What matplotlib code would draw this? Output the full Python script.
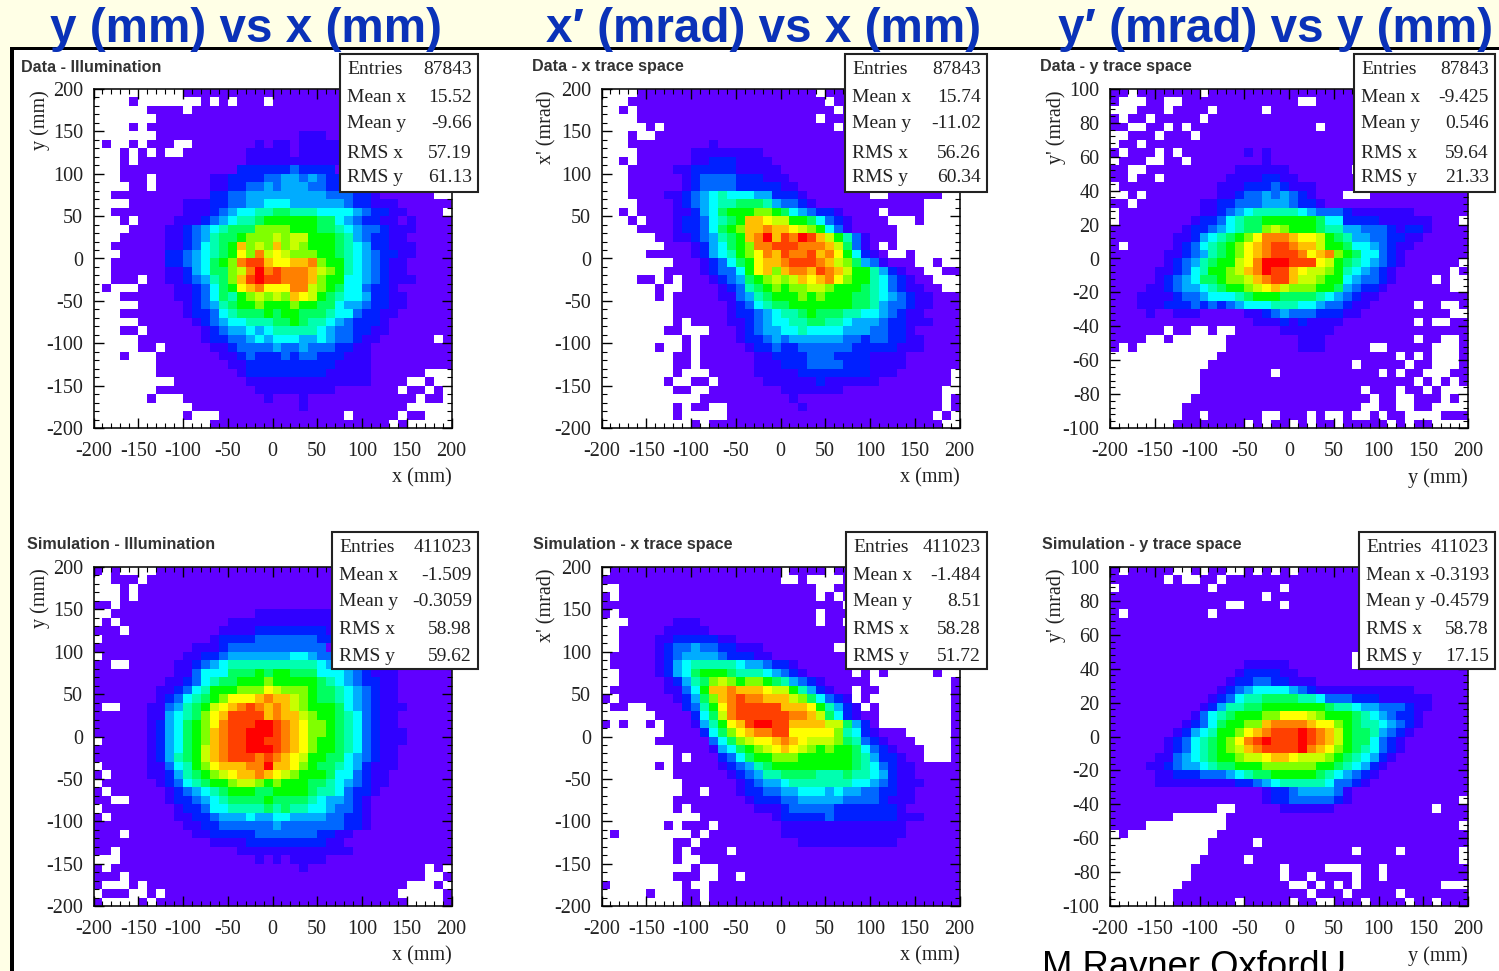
import numpy as np
import matplotlib
matplotlib.use('Agg')
import matplotlib.pyplot as plt
from matplotlib.colors import ListedColormap
from matplotlib.patches import Rectangle
from matplotlib.ticker import MultipleLocator

W, H = 1499, 971
NBINS = 40

# histogram cells, top row first: '.' = empty bin, 0-f = colour level
# rows stop early when the rest of the row is level 0
data_illum = [
    "..........0", "....0.......0.0.000.0", "......0000.0", ".......0", "....0.00",
    ".......0000000000000000111",
    ".0..0.000..00000001011011111",
    "...0.0.0..000000011111011111",
    "...0.000000000000111111111111111",
    "..." + "0"*13 + "22222232222",
    "...000.000000112222334434322",
    "....00.00000011223343444" + "3322",
    "..00000000000" + "2233444444444" + "333221" + "000000..",
    "....000000111223344555444444" + "322111",
    "..0000000011123455667766655554322110000.",
    "...0.0000111234566" + "7888888" + "77543" + "2211" + "010000",
    "....00001123456777999988877654332111",
    "...00000112346778999a9aa88876432211",
    "..00000011235678c9a9c9a9888765422111",
    "...0000022345678b9daba99988765432211",
    "..00000022345789deecbbccd9886543211",
    "..00000011245779adfdedddca986543211",
    "..000.0011234679cefeedddc98855432111",
    ".0...00001123578bcdbbbdda987553221",
    "...000000112357689a9a9cba8765542211",
    ".....000001234678898889887754432211",
    "...0000000122356777878877765532211",
    ".....0000001234556667787665432221",
    "...00.000000123445456666654332211",
    ".....000000012233454555445433211" + "000000.",
    ".....00.00000112333343343332211",
    "...0...000000011232223233222111",
    "......." + "0"*8 + "11" + "2"*10 + "1111",
    "......." + "0"*9 + "1" + "2"*9 + "11111" + "0"*6 + "...",
    "........." + "0"*8 + "1"*14 + "0000" + "..0..",
    "......." + "0"*11 + "1"*9 + "0"*7 + ".00.0.",
    "......0..." + "0"*9 + "10001" + "0"*12 + ".00.",
    "..........." + "0"*12 + "1" + "0"*11 + ".....",
    "..........0..." + "0"*14 + "." + "0"*5 + ".00...",
    "............." + "0"*20 + ".0.....",
]

data_xtrace = [
    "...." + "0"*20 + ".", "..." + "0"*22 + ".", "..0." + "0"*22 + ".", "...." + "0"*20 + ".",
    ".....0." + "0"*19 + ".", "...0..0",
    "..." + "0"*9 + "1",
    "...." + "0"*6 + "1"*8,
    "..0." + "000000" + "11222" + "1111",
    "..." + "00000" + "11" + "22222" + "11111",
    "..." + "000000" + "12" + "3333" + "222" + "111",
    "..." + "000000" + "12" + "3333" + "222" + "22" + "11",
    "...0000" + "112345" + "6" + "555" + "44" + "222" + "1" + "0"*7 + ".." + "0"*6 + "..",
    "....0000" + "123456" + "6" + "777" + "6" + "4" + "33" + "2" + "1" + "0"*12 + "....",
    "..0." + "0000" + "11" + "2457" + "888" + "99" + "8754" + "3" + "22" + "1" + "0000" + "." + "000" + "0" + "....",
    "...0." + "000" + "1" + "22" + "3567" + "8" + "cc" + "baa" + "88" + "75321" + "0000" + "...0....",
    "...." + "0000" + "1" + "22" + "35789" + "ccdccba98531" + "00000" + ".......",
    "......" + "00" + "11" + "234678" + "cdfcedfeca86" + "31" + "000" + ".......",
    "......." + "000" + "1245789" + "dd" + "eee" + "ddd" + "ca731" + "0.0" + ".......",
    "....." + "00000" + "124568" + "9bdceddecdb8521" + "0..0.....",
    "........" + "000" + "123578" + "bccdeeedca97431" + "000..0..",
    "......." + "0000" + "123358bc9cddcedca886421" + "00..00",
    "....00.0.000" + "1234789a9acbcdb98865321" + "00...",
    "......0.." + "0000" + "1236789899aa98887653211" + "00..",
    "......0." + "00000" + "11346788898988877654 3211".replace(" ", ""),
    "........" + "000000" + "12356778888888776433211",
    "........" + "000000" + "1223456678777665543211",
    "........0.0000" + "11234556677665444322111",
    "......." + "00...000" + "12344556555544433221",
    ".........0.0000" + "12234344444433233221 1".replace(" ", ""),
    "......0..0.00000" + "12232233333322222111",
    "........00.000000" + "11222233322221111",
    "........00.000000" + "11122233332221111",
    "........0...00000" + "11111" + "2"*8 + "111" + "0"*6 + ".",
    ".......0..00.00000" + "111111" + "2" + "111111" + "0"*8 + ".",
    "........00.." + "0"*8 + "1"*7 + "0"*11 + "..",
    "..........." + "0"*10 + "1" + "0"*16 + ".0",
    "........0.00..00000000" + "1" + "0"*15 + ".0",
    "........0....." + "0"*23 + ".0.",
    "..........0." + "0"*26 + "..",
]

data_ytrace = [
    "00.0000000.0", "0...00..0000000000000..", "...000.0000.00000.0", "0.00.00000.0",
    "00..00.0.0" + "0"*13 + ".", "..000.000.0", ".00.0",
    "0.000.0.0000000101", ".000..00.000000001",
    "00..0000000000" + "111111" + "0"*7 + ".",
    "00.00." + "0"*7 + "1111" + "22" + "11",
    "." + "0"*11 + "111" + "222" + "3" + "2" + "111",
    "..0.00000000" + "11" + "2" + "33" + "4" + "3" + "4" + "3" + "2" + "1" + "000" + "...",
    "00.0000000" + "1122" + "333" + "444" + "3" + "22" + "1",
    ".000000000" + "11234566" + "666" + "54333" + "2" + "1111111",
    ".00000000" + "122356" + "77" + "888888" + "7" + "55" + "2222" + "111111" + "000.",
    "00000000" + "122345677" + "9a9" + "888" + "7" + "66" + "44" + "33" + "3" + "2" + "1" + "22" + "1",
    "0000000" + "11" + "2456789b" + "ddd" + "cbba" + "876" + "44" + "33" + "22" + "11",
    "0.00000" + "123567 89bcd".replace(" ", "") + "ee" + "dcc" + "a887" + "55" + "4321" + "1",
    "000000" + "11" + "2346789bcd" + "eee" + "dbcd" + "987" + "55" + "321",
    "000000" + "123467" + "88" + "abd" + "fff" + "eee" + "ba87654321" + "000000.",
    "00000" + "11" + "2356" + "88" + "9acdf" + "ee" + "cb" + "aa" + "98654321" + "000000.0",
    "00000" + "12345" + "77" + "8" + "99" + "acd" + "ee" + "c" + "aa" + "9" + "88" + "54" + "33" + "21" + "0000.0..",
    "0000" + "11" + "23" + "44" + "567" + "88" + "9abca" + "999" + "88" + "743" + "22" + "1" + "0"*7 + "..",
    "000" + "1111" + "2" + "33" + "4" + "555" + "67" + "888" + "7777" + "65432" + "11",
    "000" + "111" + "222" + "32323" + "45" + "55" + "6" + "66" + "55" + "4" + "33" + "2" + "11" + "00000.00..0",
    "0000" + "1" + "00" + "111" + "00000" + "11" + "234" + "333" + "222" + "11" + "0"*10 + "..",
    "0"*16 + "111" + "212" + "1111" + "0"*8 + ".0..00",
    "000000.00..0..00000" + "111111",
    "0000..0......" + "0"*8 + "111" + "0"*10 + ".00..0",
    "0.0.........." + "0"*8 + "111" + "00000" + ".." + "00000" + "...0",
    "............" + "0"*20 + ".0.0...0",
    "..........." + "0"*16 + "." + "00000" + ".00...0",
    ".........." + "0"*8 + "." + "0"*11 + ".0.00...00",
    ".........." + "0"*24 + ".0.0.0",
    ".........." + "0"*18 + ".000.00.0...",
    "........." + "0"*20 + ".00..000.0.",
    "........" + "0"*20 + "..00..00....",
    "........00." + "0"*6 + "..000.0..0..0.00....",
    "......." + "0"*8 + ".0.00.0.00." + "00000" + ".0.00....",
]

sim_illum = [
    "0.0....0", "..000.0", "...0.0", "...0.0", "00.0",
    ".." + "0"*16 + "1"*10,
    ".0." + "0"*12 + "111" + "1"*10,
    "000." + "0"*10 + "1111" + "2"*8 + "11",
    "." + "0"*12 + "1" + "2222" + "3"*7 + "222",
    "0"*11 + "111" + "2" + "333" + "3"*8,
    "." + "0"*9 + "11" + "22" + "3" + "444444" + "4" + "55" + "4" + "333",
    "00.." + "00000" + "11" + "2345" + "6"*10 + "544",
    "0"*9 + "11" + "3" + "555" + "777" + "87" + "88" + "777" + "555" + "432" + "111",
    "0"*8 + "11" + "2356" + "77" + "888" + "9" + "88888" + "76543" + "22" + "11",
    "0"*7 + "11235688899" + "9ba999" + "8776543" + "211",
    "0"*7 + "12356789bbbcdcca98776543" + "211",
    "0..000" + "1134678abcdedcdca98887543 2111".replace(" ", ""),
    "000000" + "1145679bceeeecdcca9887653211",
    "000000" + "1245789bdeeeffedcb9987653211",
    "000000" + "124578 9cdeefffedcb99876532111".replace(" ", ""),
    ".00000" + "12457 89cdeeffeedcb98876532111".replace(" ", ""),
    "000000" + "124578acdeefffedcb9887653211",
    "000000" + "124678acdeeededcba8877543211",
    ".00000" + "113568 9bcccddfccb98776542111".replace(" ", ""),
    "0.0000" + "11246789abccdcba98887553211",
    ".000000" + "1235678 89aa98988877654321 1".replace(" ", ""),
    "0.000000" + "123456788877888876653221",
    "00..0000" + "12234567777877776544321",
    ".00000000" + "1223556666767665543321",
    "0.0000000" + "1122344454455444433221",
    "0"*10 + "112233333343333333221",
    "000." + "0"*7 + "112222" + "2" + "3"*7 + "2211",
    "0"*13 + "1111" + "2"*9 + "11",
    "00." + "0"*13 + "1"*13,
    "..." + "0"*15 + "10" + "1" + "0" + "1111",
    "0." + "0"*21 + "1" + "0"*13 + ".0.",
    "000." + "0"*33 + "..0",
    "0...0." + "0"*29 + "...0.",
    ".000..0." + "0"*26 + ".....0",
    "0....0." + "0"*28 + "....0",
]

sim_xtrace = [
    "." + "0"*19 + ".0000.", "0"*20 + "..0....", ".." + "0"*22 + "..", "0." + "0"*22 + ".0.",
    "0"*27 + ".", "0." + "0"*22 + ".",
    "..." + "00000" + "111" + "0"*13 + ".00.",
    ".." + "00000" + "11111",
    ".." + "0000" + "11" + "22222" + "11",
    ".." + "0000" + "12" + "33" + "4" + "33" + "22" + "111" + "0"*8 + "..",
    "." + "00000" + "123" + "4444" + "3" + "222" + "11",
    "." + "00000" + "1245" + "666" + "66" + "5" + "44" + "3" + "22" + "1",
    ".." + "0000" + "12457" + "888" + "7" + "66" + "654321" + "00000" + ".0.0.....0..",
    ".." + "00000" + "124679a98" + "99" + "8764321" + "00000" + "........." + "0",
    "." + "000000" + "11358" + "cc" + "d" + "ccc" + "b" + "aa" + "86421" + "00.00" + "........" + "0",
    "0." + "000000" + "12479cdeddccca975321" + ".0" + "........." + "0",
    ".00..0000" + "2368bdeeeeecccb86421" + ".0" + "........" + "0",
    "......0000" + "257adeeeeeeddca7521" + "00" + "........" + "0",
    "0.0..0.000" + "1468bceffeeccccaa7421"[:20] + "0" + "........" + "0",
    "......." + "0000" + "2579bcddeebbbbb96521" + "000" + "....." + "0",
    "......" + "000000" + "3579abbcdcbaaa976321" + "000" + "...." + "0",
    "........" + "0000" + "145789abcba98988753 21".replace(" ", "") + "000" + "..." + "0",
    "........0.000" + "235788999888888764221" + "00" + "..." + "0",
    "......0." + "00000" + "1234678888888887653211",
    "........" + "000000" + "123466777766676654211",
    "........." + "000000" + "123445666666655432111",
    ".........00.000" + "12233445554544332211",
    "........" + "0"*8 + "1222334444433332111",
    "........0." + "0"*7 + "11123333322222221",
    "..........." + "0"*8 + "12222232222222111",
    ".......0.000." + "0"*7 + "1"*14,
    ".0........0." + "0"*8 + "1"*14,
    "........00." + "0"*11 + "1"*11,
    "........0.0000.",
    "........0..00",
    "..........0..0",
    "........000..00.0",
    "0........0..0",
    ".....0...00.0",
    ".........00.0",
]

sim_ytrace = [
    "0.00000..0.00..0.0.0.0", "000000.0..00.0", ".0000000000.0000000.0", "0"*17 + ".",
    "0"*13 + "..0000.", "0." + "0"*9 + ".", "", "", "", "",
    "0"*27 + ".",
    "0"*15 + "11111" + "0"*7 + ".",
    "0"*14 + "1" + "2222" + "11",
    "0"*13 + "122" + "33" + "22" + "111",
    "0"*12 + "1234" + "5555" + "4321" + "1"*10,
    "0"*11 + "1235" + "66" + "7777" + "66" + "5" + "333" + "222" + "111111",
    "0"*10 + "12466778888888766544333211",
    "0"*9 + "13567888 99bbba9888765432 21".replace(" ", ""),
    "0"*8 + "123578899cddddcbb987665 4321".replace(" ", ""),
    "0"*7 + "124568 89bcdeeefedca87764321".replace(" ", ""),
    "0"*6 + "123567 89bdefeeefedca8775321".replace(" ", ""),
    "0"*6 + "123567 89acdeeeefdcb98765321".replace(" ", ""),
    "0"*5 + "113456 7889aabccbaaa98765421".replace(" ", ""),
    "0"*4 + "112344 56778889999998876 5421".replace(" ", ""),
    "0"*5 + "11222 33345677888887654321".replace(" ", ""),
    "0"*5 + "1"*9 + "223456666653321",
    "0"*17 + "122" + "3" + "4444" + "31",
    "0"*17 + "122" + "3" + "3333" + "21" + "0"*12 + ".",
    "0"*12 + ".." + "00000" + "111111" + "0"*11 + ".",
    "0000000......",
    "0000........." + "0"*26 + ".",
    ".0..........",
    "..........." + "00000.",
    "..........." + "0"*16 + ".0000." + "0"*6 + ".",
    ".........." + "00000." + "0"*23 + ".",
    "........." + "0"*10 + ".0000....00.",
    "........." + "0"*10 + ".00.0000.00.",
    "........" + "0"*12 + "..0.0.0." + "0"*9 + "...",
    "......." + "0"*15 + ".000." + "00000" + ".",
    "......." + "0"*7 + "." + "00000" + ".00..000.0000.00.",
]

grids = [data_illum, data_xtrace, data_ytrace, sim_illum, sim_xtrace, sim_ytrace]

level_colors = ['#6000ff', '#3000ff', '#0020ff', '#0068ff', '#00acff', '#00ffff', '#00ffb0', '#00ff60',
                '#00ff00', '#80ff00', '#c8ff00', '#ffff00', '#ffc000', '#ff8000', '#ff4000', '#ff0000']

titles = ['Data - Illumination', 'Data - x trace space', 'Data - y trace space',
          'Simulation - Illumination', 'Simulation - x trace space', 'Simulation - y trace space']
headers = ['y (mm) vs x (mm)', 'x\u2032 (mrad) vs x (mm)', 'y\u2032 (mrad) vs y (mm)']
xlabels = ['x (mm)', 'x (mm)', 'y (mm)'] * 2
ylabels = ['y (mm)', "x' (mrad)", "y' (mrad)"] * 2
ymax = [200, 200, 100] * 2
ymajor = [50, 50, 20] * 2

stat_names = ['Entries', 'Mean x', 'Mean y', 'RMS x', 'RMS y']
stat_values = [
    ['87843', '15.52', '-9.66', '57.19', '61.13'],
    ['87843', '15.74', '-11.02', '56.26', '60.34'],
    ['87843', '-9.425', '0.546', '59.64', '21.33'],
    ['411023', '-1.509', '-0.3059', '58.98', '59.62'],
    ['411023', '-1.484', '8.51', '58.28', '51.72'],
    ['411023', '-0.3193', '-0.4579', '58.78', '17.15'],
]

# pixel layout of the slide
ax_x = [(93.5, 451.5), (601.5, 959.5), (1110, 1468)] * 2
ax_y = [(89, 428)] * 3 + [(567, 906)] * 3
box_x = [(340, 478), (845, 987), (1354, 1495), (332, 478), (846, 987), (1359, 1495)]
box_y = [(54, 192)] * 3 + [(532, 669)] * 3
title_pos = [(21, 68), (532, 66), (1040, 66), (27, 544), (533, 544), (1042, 544)]
ylab_x = [40, 547, 1056] * 2
xlab_y = [478] * 3 + [956] * 3
stat_lines = [[70, 97, 123, 153, 178]] * 3 + [[548, 575, 601, 630, 656]] * 3
header_x = [246, 764, 1275.5]


def fx(x):
    return x / W


def fy(y):
    return 1 - y / H


def to_matrix(rows):
    z = np.full((NBINS, NBINS), -1.0)
    for i, row in enumerate(rows):
        row = row.ljust(NBINS, '0')[:NBINS]
        for j, c in enumerate(row):
            if c != '.':
                z[NBINS - 1 - i, j] = int(c, 16)
    return np.ma.masked_less(z, 0)


plt.rcParams['font.family'] = ['Liberation Serif', 'DejaVu Serif']
plt.rcParams['axes.unicode_minus'] = False
fig = plt.figure(figsize=(W / 100, H / 100), dpi=100, facecolor='white')

# slide background: pale strip on top and left, black rule
fig.add_artist(Rectangle((0, fy(47)), 1, 47 / H, transform=fig.transFigure, fc='#ffffe6', ec='none', zorder=-2))
fig.add_artist(Rectangle((0, 0), 10 / W, 1, transform=fig.transFigure, fc='#ffffe6', ec='none', zorder=-2))
fig.add_artist(Rectangle((10 / W, fy(50)), 1, 3 / H, transform=fig.transFigure, fc='black', ec='none', zorder=-1))
fig.add_artist(Rectangle((10 / W, 0), 4 / W, fy(47), transform=fig.transFigure, fc='black', ec='none', zorder=-1))

cmap = ListedColormap(level_colors)
xedges = np.linspace(-200, 200, NBINS + 1)

for k in range(6):
    x0, x1 = ax_x[k]
    y0, y1 = ax_y[k]
    ax = fig.add_axes([fx(x0), fy(y1), (x1 - x0) / W, (y1 - y0) / H])
    yedges = np.linspace(-ymax[k], ymax[k], NBINS + 1)
    ax.pcolormesh(xedges, yedges, to_matrix(grids[k]), cmap=cmap, vmin=-0.5, vmax=15.5)
    ax.set_xlim(-200, 200)
    ax.set_ylim(-ymax[k], ymax[k])
    ax.xaxis.set_major_locator(MultipleLocator(50))
    ax.xaxis.set_minor_locator(MultipleLocator(10))
    ax.yaxis.set_major_locator(MultipleLocator(ymajor[k]))
    ax.yaxis.set_minor_locator(MultipleLocator(ymajor[k] / 5))
    ax.tick_params(which='major', direction='in', length=7, width=1, top=True, right=True,
                   labelsize=14.5, labelcolor='#222222', pad=7.5)
    ax.tick_params(axis='x', which='major', pad=10)
    ax.tick_params(which='minor', direction='in', length=3.5, width=0.8, top=True, right=True)
    ax.set_axisbelow(False)
    for s in ax.spines.values():
        s.set_linewidth(1.2)
        s.set_color('#111111')

    fig.text(fx(x1), fy(xlab_y[k]), xlabels[k], ha='right', va='center', fontsize=14.5, color='#222222')
    fig.text(fx(ylab_x[k]), fy(y0 + 1), ylabels[k], ha='center', va='top', rotation=90, fontsize=14.5, color='#222222')
    fig.text(fx(title_pos[k][0]), fy(title_pos[k][1]), titles[k], ha='left', va='center', fontsize=11.6,
             fontweight='bold', family=['Liberation Sans'], color='#333333')

    bx0, bx1 = box_x[k]
    by0, by1 = box_y[k]
    fig.add_artist(Rectangle((fx(bx0), fy(by1)), (bx1 - bx0) / W, (by1 - by0) / H, transform=fig.transFigure,
                             fc='white', ec='#222222', lw=1.5, zorder=5))
    for name, value, ly in zip(stat_names, stat_values[k], stat_lines[k]):
        fig.text(fx(bx0 + 7), fy(ly), name, ha='left', va='center', fontsize=14, color='#222222', zorder=6)
        fig.text(fx(bx1 - 6), fy(ly), value, ha='right', va='center', fontsize=14, color='#222222', zorder=6)

for hx, header in zip(header_x, headers):
    fig.text(fx(hx), fy(29), header, ha='center', va='center', fontsize=34.3, fontweight='bold',
             family=['Liberation Sans'], color='#0a32b8', zorder=7)

fig.text(fx(1042), fy(977), 'M Rayner OxfordU', ha='left', va='baseline', fontsize=26.3,
         family=['Liberation Sans'], color='black', zorder=7)

fig.savefig('out.png', dpi=100)
